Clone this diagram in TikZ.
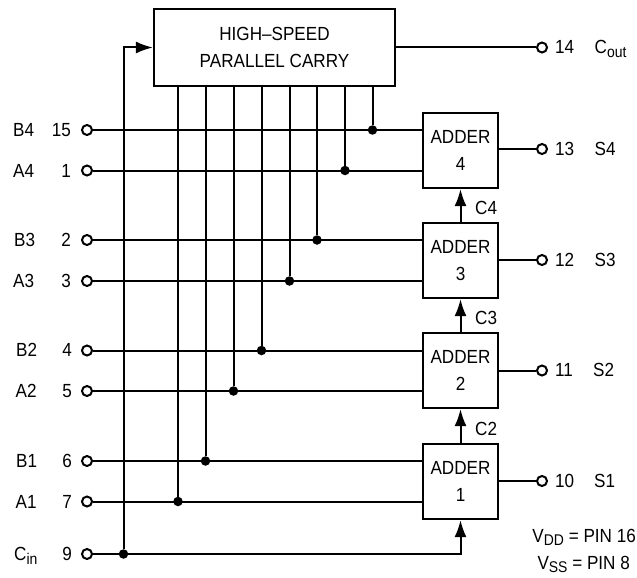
\documentclass[tikz,border=0pt]{standalone}
\usepackage{xcolor}
\usepackage{fontspec}
\setmainfont[FakeStretch=0.9]{Liberation Sans}
\usetikzlibrary{arrows.meta}

\newcommand{\pinsub}[1]{\raisebox{-3.5pt}{\fontsize{15.5}{15.5}\selectfont #1}}

\tikzset{
    wire/.style={line width=2pt},
    flow/.style={wire,-{Latex[length=17pt,width=12pt]}},
    blockbox/.style={draw,line width=2.2pt,fill=white,align=center,font=\fontsize{19}{27}\selectfont},
    pinhole/.style={circle,draw,line width=2pt,fill=white,inner sep=0pt,minimum size=10pt},
    junction/.style={circle,fill=black,inner sep=0pt,minimum size=9.5pt},
    pinlabel/.style={inner sep=0pt,font=\fontsize{19}{20}\selectfont},
}

\begin{document}
\begin{tikzpicture}[x=1pt,y=-1pt]
    \useasboundingbox (0,0) rectangle (637,578);

    \node[blockbox,minimum width=241pt,minimum height=77pt] (carry) at (274.5,47.5) {HIGH--SPEED\\PARALLEL CARRY};
    \node[blockbox,minimum width=75pt,minimum height=75pt] (adderFour) at (460.5,150.5) {ADDER\\4};
    \node[blockbox,minimum width=75pt,minimum height=75pt] (adderThree) at (460.5,260.5) {ADDER\\3};
    \node[blockbox,minimum width=75pt,minimum height=75pt] (adderTwo) at (460.5,370.5) {ADDER\\2};
    \node[blockbox,minimum width=75pt,minimum height=75pt] (adderOne) at (460.5,481.5) {ADDER\\1};

    \node[pinhole] (pinBFour) at (87,130) {};
    \node[pinhole] (pinAFour) at (87,170.5) {};
    \node[pinhole] (pinBThree) at (87,240) {};
    \node[pinhole] (pinAThree) at (87,281) {};
    \node[pinhole] (pinBTwo) at (87,350.5) {};
    \node[pinhole] (pinATwo) at (87,391) {};
    \node[pinhole] (pinBOne) at (87,461) {};
    \node[pinhole] (pinAOne) at (87,501.5) {};
    \node[pinhole] (pinCin) at (87,554) {};

    \node[pinhole] (pinCout) at (542,47.5) {};
    \node[pinhole] (pinSFour) at (542,149) {};
    \node[pinhole] (pinSThree) at (542,260) {};
    \node[pinhole] (pinSTwo) at (542,370.5) {};
    \node[pinhole] (pinSOne) at (542,481) {};

    \node[junction] (dotBFour) at (372.5,130) {};
    \node[junction] (dotAFour) at (345,170.5) {};
    \node[junction] (dotBThree) at (317,240) {};
    \node[junction] (dotAThree) at (289.5,281) {};
    \node[junction] (dotBTwo) at (261.5,350.5) {};
    \node[junction] (dotATwo) at (233.5,391) {};
    \node[junction] (dotBOne) at (205.5,461) {};
    \node[junction] (dotAOne) at (178,501.5) {};
    \node[junction] (dotCin) at (123.5,554) {};

    \draw[wire] (pinBFour) -- (adderFour.west |- pinBFour);
    \draw[wire] (pinAFour) -- (adderFour.west |- pinAFour);
    \draw[wire] (pinBThree) -- (adderThree.west |- pinBThree);
    \draw[wire] (pinAThree) -- (adderThree.west |- pinAThree);
    \draw[wire] (pinBTwo) -- (adderTwo.west |- pinBTwo);
    \draw[wire] (pinATwo) -- (adderTwo.west |- pinATwo);
    \draw[wire] (pinBOne) -- (adderOne.west |- pinBOne);
    \draw[wire] (pinAOne) -- (adderOne.west |- pinAOne);
    \draw[wire] (pinCin) -- (dotCin);
    \draw[flow] (dotCin) -| (adderOne.south);
    \draw[flow] (dotCin) |- (carry.west);

    \draw[wire] (carry.south -| dotBFour) -- (dotBFour);
    \draw[wire] (carry.south -| dotAFour) -- (dotAFour);
    \draw[wire] (carry.south -| dotBThree) -- (dotBThree);
    \draw[wire] (carry.south -| dotAThree) -- (dotAThree);
    \draw[wire] (carry.south -| dotBTwo) -- (dotBTwo);
    \draw[wire] (carry.south -| dotATwo) -- (dotATwo);
    \draw[wire] (carry.south -| dotBOne) -- (dotBOne);
    \draw[wire] (carry.south -| dotAOne) -- (dotAOne);

    \draw[wire] (carry.east |- pinCout) -- (pinCout);
    \draw[wire] (adderFour.east |- pinSFour) -- (pinSFour);
    \draw[wire] (adderThree.east |- pinSThree) -- (pinSThree);
    \draw[wire] (adderTwo.east |- pinSTwo) -- (pinSTwo);
    \draw[wire] (adderOne.east |- pinSOne) -- (pinSOne);

    \draw[flow] (adderOne.north) -- (adderTwo.south);
    \draw[flow] (adderTwo.north) -- (adderThree.south);
    \draw[flow] (adderThree.north) -- (adderFour.south);

    \node[pinlabel,anchor=base west] (nameBFour) at (13,136.5) {B4};
    \node[pinlabel,anchor=base west] (nameAFour) at (13,177) {A4};
    \node[pinlabel,anchor=base west] (nameBThree) at (14,246.5) {B3};
    \node[pinlabel,anchor=base west] (nameAThree) at (13,287.5) {A3};
    \node[pinlabel,anchor=base west] (nameBTwo) at (16,356.5) {B2};
    \node[pinlabel,anchor=base west] (nameATwo) at (15.5,397.5) {A2};
    \node[pinlabel,anchor=base west] (nameBOne) at (16,467.5) {B1};
    \node[pinlabel,anchor=base west] (nameAOne) at (15.5,508) {A1};
    \node[pinlabel,anchor=base west] (nameCin) at (14,560.5) {C\pinsub{in}};

    \node[pinlabel,anchor=base east] (numBFour) at (71,136.5) {15};
    \node[pinlabel,anchor=base east] (numAFour) at (71,177) {1};
    \node[pinlabel,anchor=base east] (numBThree) at (71,246.5) {2};
    \node[pinlabel,anchor=base east] (numAThree) at (71,287.5) {3};
    \node[pinlabel,anchor=base east] (numBTwo) at (72,356.5) {4};
    \node[pinlabel,anchor=base east] (numATwo) at (72,397.5) {5};
    \node[pinlabel,anchor=base east] (numBOne) at (72,467.5) {6};
    \node[pinlabel,anchor=base east] (numAOne) at (72,508) {7};
    \node[pinlabel,anchor=base east] (numCin) at (72,560.5) {9};

    \node[pinlabel,anchor=base west] (numCout) at (555,54) {14};
    \node[pinlabel,anchor=base west] (numSFour) at (555,155.5) {13};
    \node[pinlabel,anchor=base west] (numSThree) at (555,266.5) {12};
    \node[pinlabel,anchor=base west] (numSTwo) at (555,376.5) {11};
    \node[pinlabel,anchor=base west] (numSOne) at (555,487.5) {10};

    \node[pinlabel,anchor=base west] (nameCout) at (594.5,54) {C\pinsub{out}};
    \node[pinlabel,anchor=base west] (nameSFour) at (594.5,155.5) {S4};
    \node[pinlabel,anchor=base west] (nameSThree) at (594.5,266.5) {S3};
    \node[pinlabel,anchor=base west] (nameSTwo) at (593,376.5) {S2};
    \node[pinlabel,anchor=base west] (nameSOne) at (594,487.5) {S1};

    \node[pinlabel,anchor=base west] (carryFour) at (475,214.5) {C4};
    \node[pinlabel,anchor=base west] (carryThree) at (475,324.5) {C3};
    \node[pinlabel,anchor=base west] (carryTwo) at (475,435.5) {C2};

    \node[pinlabel,anchor=base east] (supplyDD) at (636,542) {V\pinsub{DD} = PIN 16};
    \node[pinlabel,anchor=base east] (supplySS) at (630,569) {V\pinsub{SS} = PIN 8};
\end{tikzpicture}
\end{document}
